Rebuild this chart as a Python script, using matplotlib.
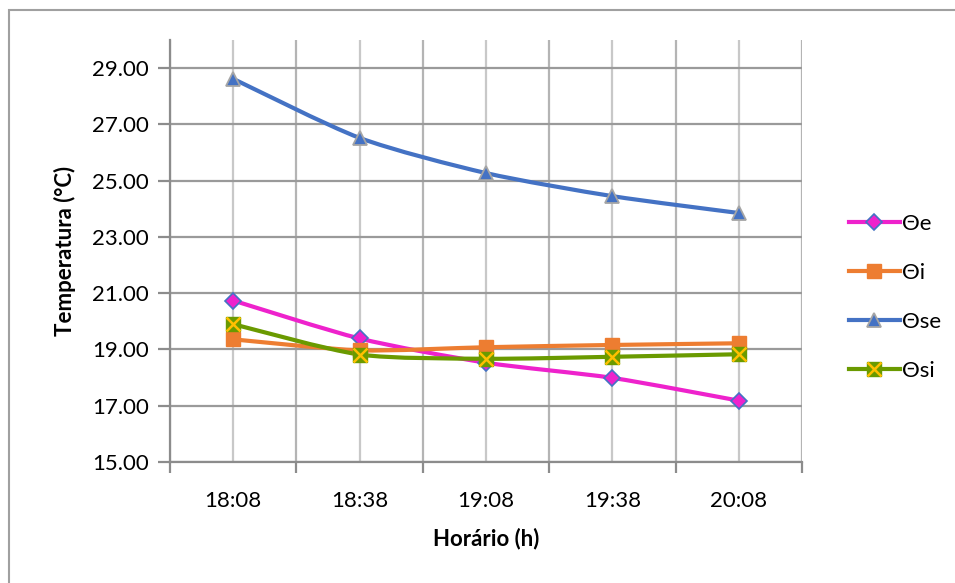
import matplotlib
matplotlib.use('Agg')
import matplotlib.pyplot as plt
import numpy as np
from matplotlib.path import Path
from matplotlib.patches import PathPatch, Rectangle
from matplotlib.lines import Line2D

plt.rcParams['font.family'] = ['Lato', 'DejaVu Sans']

horarios = ['18:08', '18:38', '19:08', '19:38', '20:08']
theta_e = [20.74, 19.39, 18.53, 17.99, 17.18]
theta_i = [19.36, 18.97, 19.08, 19.16, 19.22]
theta_se = [28.62, 26.52, 25.27, 24.45, 23.85]
theta_si = [19.90, 18.82, 18.67, 18.74, 18.83]


def smooth_path(x, y):
    # excel-like smoothed line: bezier segments with catmull-rom handles
    pts = np.column_stack([x, y]).astype(float)
    n = len(pts)
    verts = [pts[0]]
    codes = [Path.MOVETO]
    for i in range(n - 1):
        p0 = pts[max(i - 1, 0)]
        p1 = pts[i]
        p2 = pts[i + 1]
        p3 = pts[min(i + 2, n - 1)]
        c1 = p1 + (p2 - p0) / 8.0
        c2 = p2 - (p3 - p1) / 8.0
        verts += [c1, c2, p2]
        codes += [Path.CURVE4] * 3
    return Path(verts, codes)


fig = plt.figure(figsize=(9.55, 5.83), dpi=100)
fig.patches.append(Rectangle((9 / 955, -0.1), 1.2, 1 - 10 / 583 + 0.1,
                             transform=fig.transFigure, fill=False,
                             edgecolor='#A0A0A0', linewidth=1.5))
ax = fig.add_axes([170 / 955, 1 - 462 / 583, 632 / 955, 422 / 583])

xs = np.arange(len(horarios)) + 0.5
ax.set_xlim(0, 5)
ax.set_ylim(15, 30)

# grid
for b in range(0, 6):
    ax.axvline(b, color='#B4B4B4', lw=1.6, zorder=0)
for c in xs:
    ax.axvline(c, color='#C8C8C8', lw=1.6, zorder=0)
for v in range(15, 30, 2):
    ax.axhline(v, color='#9A9A9A', lw=1.6, zorder=0)

ax.set_yticks(range(15, 30, 2))
ax.set_yticklabels(['{:.2f}'.format(v) for v in range(15, 30, 2)], fontsize=16)
ax.set_xticks(range(0, 6))
ax.set_xticklabels([])
ax.set_xticks(xs, minor=True)
ax.set_xticklabels(horarios, minor=True, fontsize=16)
ax.tick_params(axis='x', which='minor', length=0, pad=21)
ax.tick_params(axis='x', which='major', length=8, width=1.6, color='#8C8C8C')
ax.tick_params(axis='y', length=9, width=1.6, color='#8C8C8C', pad=6)

for s in ['top', 'right']:
    ax.spines[s].set_visible(False)
ax.spines['left'].set_color('#8C8C8C')
ax.spines['left'].set_linewidth(1.6)
ax.spines['bottom'].set_color('#8C8C8C')
ax.spines['bottom'].set_linewidth(1.6)

series = [
    ('Θe', theta_e, '#EE22CC', dict(marker='D', ms=8.5, mfc='#EE22CC', mec='#4472C4', mew=1.2)),
    ('Θi', theta_i, '#ED7D31', dict(marker='s', ms=9.5, mfc='#ED7D31', mec='#ED7D31', mew=1)),
    ('Θse', theta_se, '#4472C4', dict(marker='^', ms=10.5, mfc='#4472C4', mec='#A5A5A5', mew=1.3)),
    ('Θsi', theta_si, '#6A9A00', dict(marker='s', ms=9.5, mfc='#6A9A00', mec='#6A9A00', mew=1)),
]

handles = []
for name, vals, col, mk in series:
    ax.add_patch(PathPatch(smooth_path(xs, vals), fill=False, edgecolor=col,
                           lw=3, zorder=3, capstyle='round'))
    ax.plot(xs, vals, linestyle='none', zorder=4, **mk)
    handles.append(Line2D([0], [0], color=col, lw=3, **mk))

cross = dict(linestyle='none', marker='x', ms=9.5, mec='#FFC000', mew=1.8)
ax.plot(xs, theta_si, zorder=5, **cross)
handles[3] = (handles[3], Line2D([0], [0], **cross))

leg = ax.legend(handles, [s[0] for s in series], loc='center left',
                bbox_to_anchor=(1.06, 0.39), frameon=False, fontsize=16,
                handlelength=2.3, handletextpad=0.1, labelspacing=1.3,
                borderaxespad=0)

ax.set_ylabel('Temperatura (°C)', fontsize=16, fontweight='bold', labelpad=12)
ax.set_xlabel('Horário (h)', fontsize=16, fontweight='bold', labelpad=12)

fig.savefig('out.png', dpi=100)
